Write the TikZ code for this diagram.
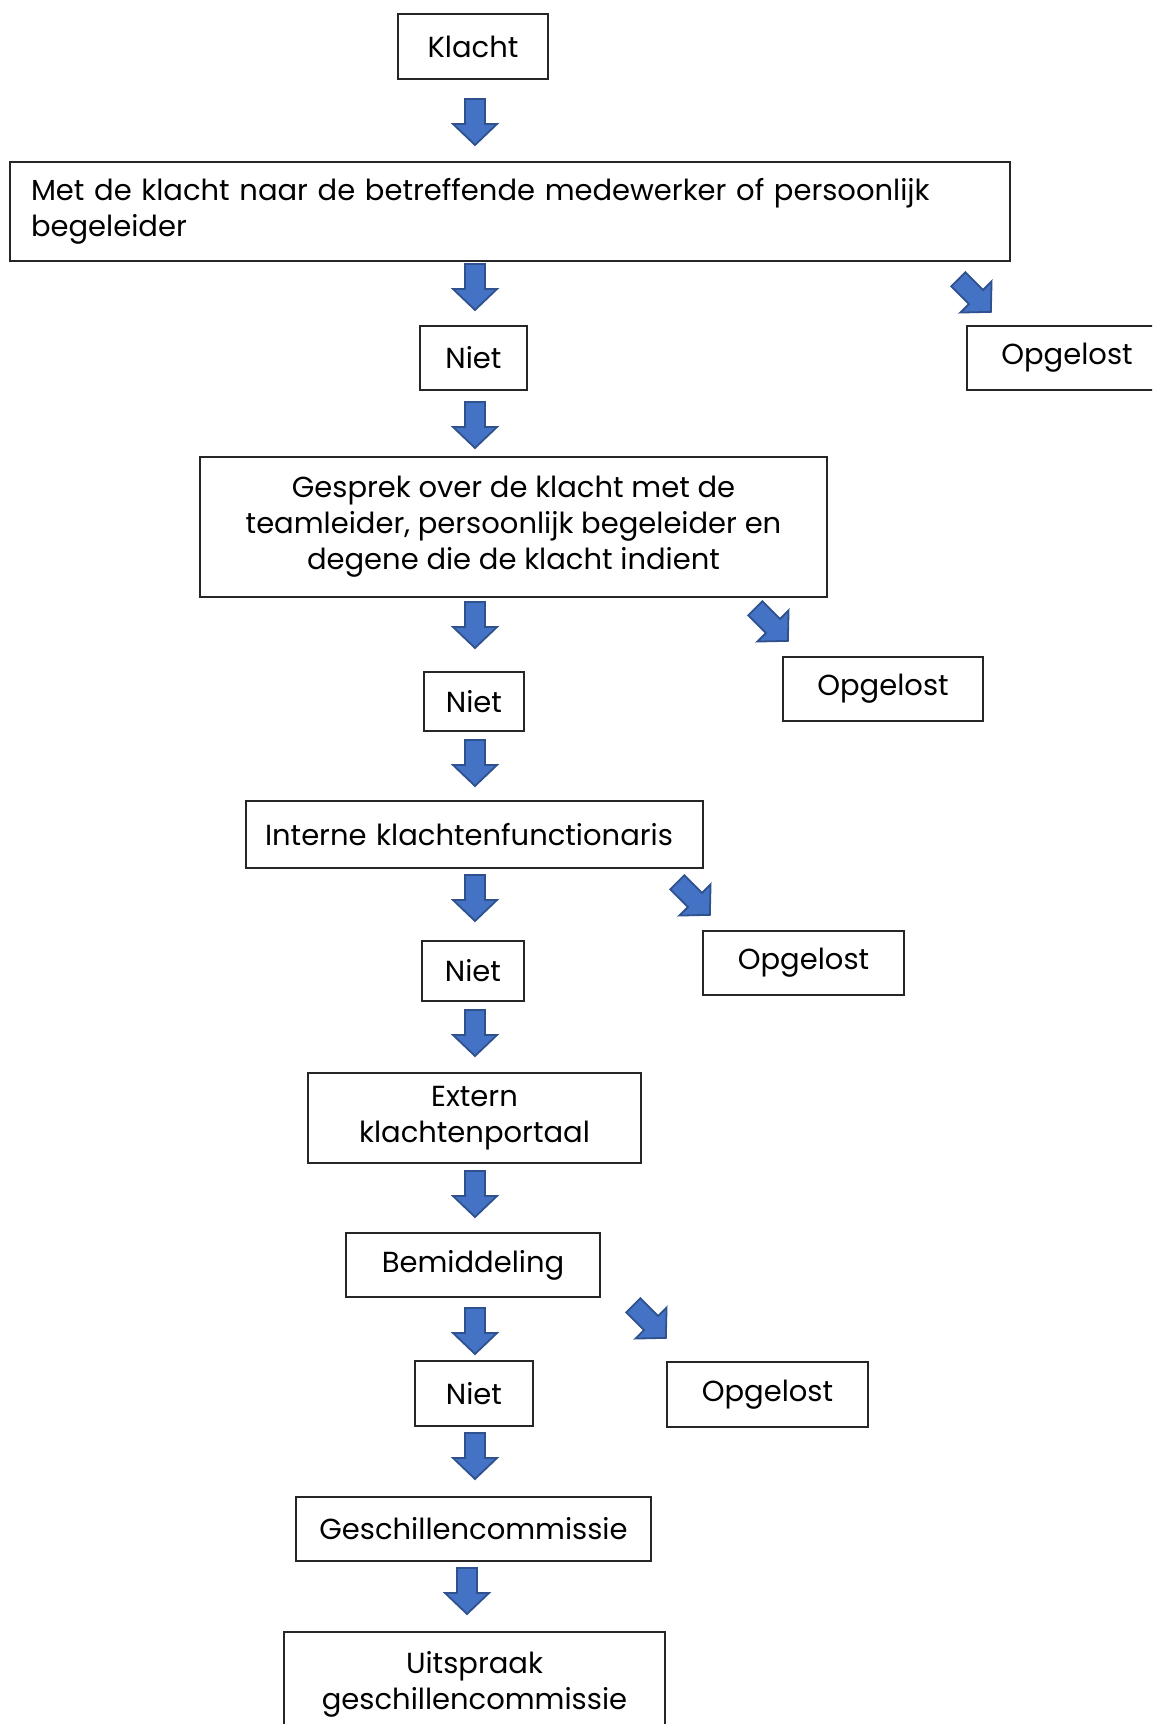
\documentclass[tikz,border=0pt]{standalone}
\usepackage{fontspec}
\setmainfont{Poppins}
\usepackage{tikz}
\usetikzlibrary{positioning,calc}
\definecolor{arrowBlue}{RGB}{68,114,196}
\definecolor{arrowEdge}{RGB}{47,82,143}

\begin{document}
\begin{tikzpicture}[x=1pt,y=-1pt,
                stap/.style={draw=black!85,line width=1.2pt,inner sep=0pt,align=center,
                            font=\fontsize{29}{36}\selectfont},
                pics/blokpijl/.style={code={
                    \draw[fill=arrowBlue,draw=arrowEdge,line width=1.8pt]
                        (-10,-#1) -- (10,-#1) -- (10,0) -- (22,0) -- (0,21) -- (-22,0) -- (-10,0) -- cycle;}}
            ]
                \clip (0,0) rectangle (1152,1724);
                \useasboundingbox (0,0) rectangle (1152,1724);
                % stappen
                \node[stap,minimum width=150,minimum height=65] (klacht) at (473,46.5) {Klacht};
                \node[stap,minimum width=1000,minimum height=99,align=left,text width=958] (medewerker) at (510,211.5)
                    {Met de klacht naar de betreffende medewerker of persoonlijk\\begeleider};
                \node[stap,minimum width=107,minimum height=64] (niet1) at (473.5,358) {Niet};
                \node[stap,minimum width=200,minimum height=64] (opgelost1) at (1067,358) {Opgelost};
                \node[stap,minimum width=627,minimum height=140] (gesprek) at (513.5,527)
                    {Gesprek over de klacht met de\\teamleider, persoonlijk begeleider en\\degene die de klacht indient};
                \node[stap,minimum width=100,minimum height=59] (niet2) at (474,701.5) {Niet};
                \node[stap,minimum width=200,minimum height=64] (opgelost2) at (883,689) {Opgelost};
                \node[stap,minimum width=457,minimum height=67,align=left,text width=419] (functionaris) at (474.5,834.5)
                    {Interne klachtenfunctionaris};
                \node[stap,minimum width=102,minimum height=60] (niet3) at (473,971) {Niet};
                \node[stap,minimum width=201,minimum height=64] (opgelost3) at (803.5,963) {Opgelost};
                \node[stap,minimum width=333,minimum height=90] (extern) at (474.5,1118) {Extern\\klachtenportaal};
                \node[stap,minimum width=254,minimum height=64] (bemiddeling) at (473,1265) {Bemiddeling};
                \node[stap,minimum width=118,minimum height=65] (niet4) at (474,1393.5) {Niet};
                \node[stap,minimum width=201,minimum height=65] (opgelost4) at (767.5,1394.5) {Opgelost};
                \node[stap,minimum width=355,minimum height=64] (commissie) at (473.5,1529) {Geschillencommissie};
                \node[stap,minimum width=381,minimum height=104] (uitspraak) at (474.5,1684)
                    {Uitspraak\\geschillencommissie};
                % pijlen omlaag
                \foreach \y in {99,264,402,602,740,875,1010,1171,1308,1433}
                    \pic at (475,\y+25) {blokpijl=25};
                \pic at (467,1593) {blokpijl=25};
                % pijlen schuin naar opgelost
                \pic[rotate=45] at (976,297) {blokpijl=25};
                \pic[rotate=45] at (773,626) {blokpijl=25};
                \pic[rotate=45] at (695,900) {blokpijl=25};
                \pic[rotate=45] at (651,1323) {blokpijl=25};
            \end{tikzpicture}
\end{document}
